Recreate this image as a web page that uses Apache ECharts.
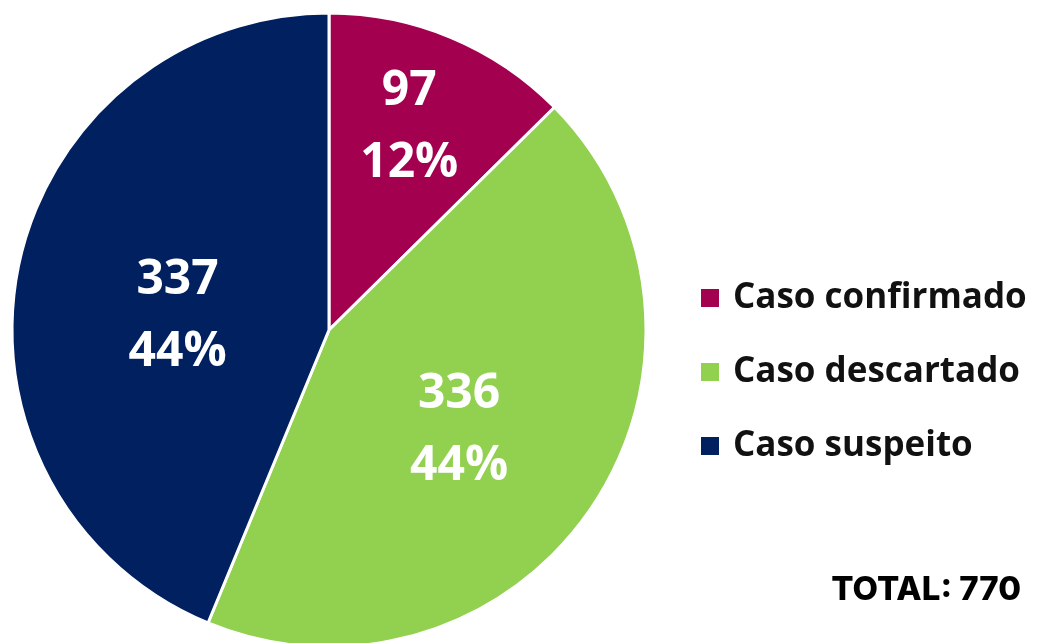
<!DOCTYPE html>
<html>
<head>
<meta charset="utf-8">
<script src="https://cdn.jsdelivr.net/npm/echarts@6/dist/echarts.min.js"></script>
<style>
  html, body { margin: 0; padding: 0; background: #fff; }
  #main { width: 1043px; height: 643px; }
</style>
</head>
<body>
<div id="main"></div>
<script>
var categories = ['Caso confirmado', 'Caso descartado', 'Caso suspeito'];
var values = [97, 336, 337];
var colors = ['#A3004F', '#92D050', '#002060'];
var totalText = 'TOTAL: 770';
// nudges for the inside labels, same order as categories
var labelShift = [[18, -54], [-4, 10], [7, 18]];

var myChart = echarts.init(document.getElementById('main'));

var data = categories.map(function (name, i) {
    return { name: name, value: values[i], itemStyle: { color: colors[i] } };
});

option = {
    animation: false,
    legend: {
        orient: 'vertical',
        left: 694,
        top: 273,
        icon: 'rect',
        itemWidth: 20,
        itemHeight: 20,
        itemGap: 34,
        selectedMode: false,
        data: categories,
        textStyle: {
            fontFamily: 'Open Sans',
            fontWeight: 'bold',
            fontSize: 35,
            lineHeight: 40,
            padding: [0, 0, 0, 8],
            color: '#111'
        }
    },
    graphic: [{
        type: 'text',
        right: 22,
        top: 574,
        style: {
            text: totalText,
            fontFamily: 'Inter',
            fontWeight: 800,
            fontSize: 33,
            fill: '#000'
        }
    }],
    series: [
        {
            type: 'pie',
            center: [329, 330],
            radius: 317,
            startAngle: 90,
            clockwise: true,
            percentPrecision: 0,
            data: data,
            itemStyle: {
                borderColor: '#fff',
                borderWidth: 3
            },
            label: {
                position: 'inside',
                formatter: '{c}\n{d}%',
                color: '#fff',
                fontFamily: 'Open Sans',
                fontWeight: 'bold',
                fontSize: 48,
                lineHeight: 72
            },
            labelLayout: function (params) {
                var s = labelShift[params.dataIndex];
                return { dx: s[0], dy: s[1] };
            },
            emphasis: { disabled: true }
        }
    ]
};

myChart.setOption(option);
</script>
</body>
</html>
